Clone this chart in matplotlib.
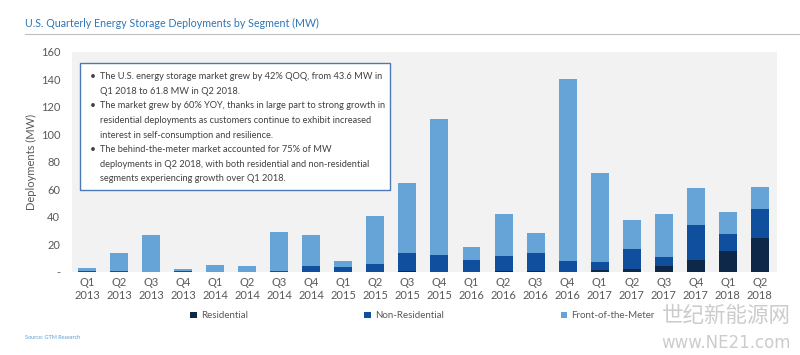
import matplotlib.pyplot as plt
from matplotlib.patches import Rectangle

# data (MW)
quarters = ["Q1\n2013", "Q2\n2013", "Q3\n2013", "Q4\n2013", "Q1\n2014", "Q2\n2014",
            "Q3\n2014", "Q4\n2014", "Q1\n2015", "Q2\n2015", "Q3\n2015", "Q4\n2015",
            "Q1\n2016", "Q2\n2016", "Q3\n2016", "Q4\n2016", "Q1\n2017", "Q2\n2017",
            "Q3\n2017", "Q4\n2017", "Q1\n2018", "Q2\n2018"]
residential = [0, 0, 0, 0, 0, 0, 0, 0, 0, 0, 1, 0,
               0, 1, 1, 0, 1.7, 2, 4.4, 9, 15.5, 24.5]
non_residential = [1, 1, 0, 1, 0, 0, 1, 4.5, 3.3, 5.5, 13, 12,
                   9, 10.5, 13, 8, 5.3, 14.4, 6.6, 25, 12, 21.1]
front_of_meter = [2, 13, 27, 1, 5, 4, 28, 22, 4.7, 35.1, 51, 99.5,
                  9.4, 30.5, 14, 132, 64.8, 21.6, 31, 27, 16.1, 16.2]

bullet_lines = [
    ("\u2022", "The U.S. energy storage market grew by 42% QOQ, from 43.6 MW in"),
    ("", "Q1 2018 to 61.8 MW in Q2 2018."),
    ("\u2022", "The market grew by 60% YOY, thanks in large part to strong growth in"),
    ("", "residential deployments as customers continue to exhibit increased"),
    ("", "interest in self-consumption and resilience."),
    ("\u2022", "The behind-the-meter market accounted for 75% of MW"),
    ("", "deployments in Q2 2018, with both residential and non-residential"),
    ("", "segments experiencing growth over Q1 2018."),
]

C_RES = "#0d2849"
C_NON = "#0f4f9e"
C_FTM = "#66a3d6"
GRAY = "#595959"

plt.rcParams['font.family'] = ['Lato', 'DejaVu Sans']

fig = plt.figure(figsize=(8, 3.55), dpi=100)
renderer = fig.canvas.get_renderer()


def fit(txt, width_px):
    # shrink/grow a text so that it spans width_px pixels
    cur = txt.get_window_extent(renderer).width
    txt.set_fontsize(txt.get_fontsize() * width_px / cur)


ax = fig.add_axes([0.09, 0.234, 0.881, 0.62])
ax.set_facecolor("#f2f2f2")

x = range(len(quarters))
bottom2 = [r + n for r, n in zip(residential, non_residential)]
w = 0.56
ax.bar(x, residential, w, color=C_RES, label="Residential")
ax.bar(x, non_residential, w, bottom=residential, color=C_NON, label="Non-Residential")
ax.bar(x, front_of_meter, w, bottom=bottom2, color=C_FTM, label="Front-of-the-Meter")

ax.set_xlim(-0.47, 21.53)
ax.set_ylim(0, 160)
ax.set_yticks(range(0, 161, 20))
ax.set_yticklabels(["-"] + [str(v) for v in range(20, 161, 20)])
ax.set_xticks(list(x))
ax.set_xticklabels(quarters, linespacing=1.15)
ax.tick_params(length=0, labelsize=8, colors=GRAY)
ax.tick_params(axis='x', pad=4)
ax.tick_params(axis='y', pad=8.5)
for s in ax.spines.values():
    s.set_visible(False)
ax.set_ylabel("Deployments (MW)", fontsize=8, color=GRAY, labelpad=3)

# title and rule
title = fig.text(0.031, 0.935, "U.S. Quarterly Energy Storage Deployments by Segment (MW)",
                 fontsize=9.5, color="#2e75b6", va="center")
fit(title, 293)
fig.add_artist(plt.Line2D([0.031, 1.0], [0.903, 0.903], color="#bfbfbf", lw=0.8))

# call-out box
fig.patches.append(Rectangle((0.1, 0.465), 0.387, 0.358, transform=fig.transFigure,
                             facecolor="white", edgecolor="#4a78b8", lw=1.0))
texts = []
for i, (mark, line) in enumerate(bullet_lines):
    yy = 1 - (76.7 + 14.6 * i) / 355
    if mark:
        fig.text(0.1125, yy, mark, fontsize=7.4, color="#404040", va="center")
    texts.append(fig.text(0.125, yy, line, fontsize=7.4, color="#404040", va="center"))
scale = 283 / texts[0].get_window_extent(renderer).width
for t in texts:
    t.set_fontsize(7.4 * scale)

leg = fig.legend(loc="center", bbox_to_anchor=(0.528, 0.11), ncol=3, frameon=False,
                 fontsize=7, handlelength=0.7, handleheight=0.7, handletextpad=0.4,
                 columnspacing=12)
for t in leg.get_texts():
    t.set_color(GRAY)

fig.text(0.031, 0.045, "Source: GTM Research", fontsize=4, color="#5b9bd5")

# watermark
fig.text(0.988, 0.11, "世纪新能源网", fontsize=15.5, color="#cccccc", ha="right",
         va="center", family=['Noto Sans CJK SC', 'DejaVu Sans'])
fig.text(0.988, 0.035, "www.NE21.com", fontsize=12, color="#cccccc", ha="right",
         va="center", family=['DejaVu Sans'])

fig.savefig("out.png", dpi=100)
